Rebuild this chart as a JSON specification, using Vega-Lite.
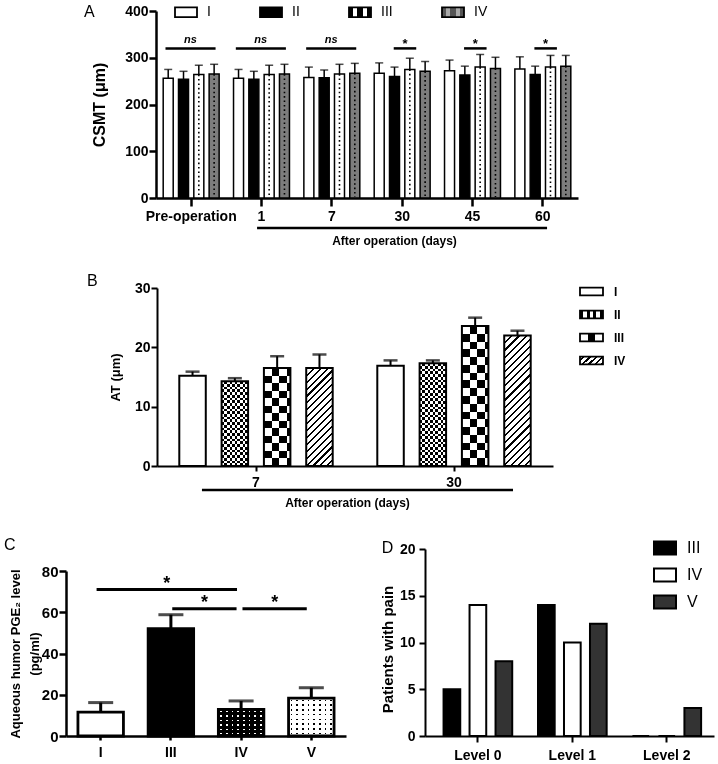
{
"$schema": "https://vega.github.io/schema/vega-lite/v6.json",
"background": "white",
"padding": {"left": 4, "top": 0, "right": 2, "bottom": 2},
"config": {
  "font": "Liberation Sans",
  "view": {"stroke": null},
  "axis": {"domainColor": "black", "tickColor": "black", "labelColor": "black", "titleColor": "black", "labelFont": "Liberation Sans", "titleFont": "Liberation Sans", "labelFontWeight": "bold", "titleFontWeight": "bold", "labelFontSize": 14, "grid": false, "labelFlush": false, "labelOverlap": false, "labelAngle": 0},
  "legend": {"labelFont": "Liberation Sans", "labelColor": "black", "padding": 0},
  "title": {"font": "Liberation Sans", "fontWeight": "normal", "fontSize": 16, "color": "black", "anchor": "start", "frame": "group", "offset": 0, "baseline": "middle"}
},
"datasets": {
  "csmt": [
    {"t":"Pre-operation","g":"I","v":256,"e":275},{"t":"Pre-operation","g":"II","v":254,"e":271},{"t":"Pre-operation","g":"III","v":264,"e":284},{"t":"Pre-operation","g":"IV","v":265,"e":286},
    {"t":"1","g":"I","v":256,"e":275},{"t":"1","g":"II","v":254,"e":271},{"t":"1","g":"III","v":264,"e":284},{"t":"1","g":"IV","v":265,"e":286},
    {"t":"7","g":"I","v":258,"e":280},{"t":"7","g":"II","v":257,"e":274},{"t":"7","g":"III","v":265,"e":286},{"t":"7","g":"IV","v":267,"e":288},
    {"t":"30","g":"I","v":267,"e":289},{"t":"30","g":"II","v":260,"e":280},{"t":"30","g":"III","v":275,"e":299},{"t":"30","g":"IV","v":271,"e":292},
    {"t":"45","g":"I","v":272,"e":295},{"t":"45","g":"II","v":263,"e":282},{"t":"45","g":"III","v":280,"e":307},{"t":"45","g":"IV","v":277,"e":301},
    {"t":"60","g":"I","v":276,"e":302},{"t":"60","g":"II","v":264,"e":282},{"t":"60","g":"III","v":280,"e":305},{"t":"60","g":"IV","v":282,"e":305}
  ],
  "at": [
    {"t":"7","g":"I","v":15.2,"e":15.9},{"t":"7","g":"II","v":14.3,"e":14.8},{"t":"7","g":"III","v":16.5,"e":18.5},{"t":"7","g":"IV","v":16.5,"e":18.8},
    {"t":"30","g":"I","v":16.9,"e":17.8},{"t":"30","g":"II","v":17.3,"e":17.8},{"t":"30","g":"III","v":23.6,"e":25.0},{"t":"30","g":"IV","v":22.0,"e":22.8}
  ],
  "pge": [{"g":"I","v":11.6,"e":16.2},{"g":"III","v":52,"e":58.8},{"g":"IV","v":12.9,"e":17},{"g":"V","v":18.4,"e":23.4}],
  "pain": [
    {"level":"Level 0","g":"III","n":5},{"level":"Level 0","g":"IV","n":14},{"level":"Level 0","g":"V","n":8},
    {"level":"Level 1","g":"III","n":14},{"level":"Level 1","g":"IV","n":10},{"level":"Level 1","g":"V","n":12},
    {"level":"Level 2","g":"III","n":0},{"level":"Level 2","g":"IV","n":0},{"level":"Level 2","g":"V","n":3}
  ],
  "sigA": [{"t":"Pre-operation","label":"ns"},{"t":"1","label":"ns"},{"t":"7","label":"ns"},{"t":"30","label":"*"},{"t":"45","label":"*"},{"t":"60","label":"*"}],
  "sigC": [{"a":"I","b":"IV","lvl":"top","label":"*"},{"a":"III","b":"IV","lvl":"low","label":"*"},{"a":"IV","b":"V","lvl":"low","label":"*"}]
},
"spacing": 83,
"bounds": "flush",
"resolve": {"scale": {"fill": "independent", "xOffset": "independent"}, "legend": {"fill": "independent"}},
"vconcat": [
  {
    "width": 512, "height": 187,
    "title": {"text": "A", "dx": 18, "dy": 24},
    "layer": [
      {
        "data": {"name": "csmt"},
        "resolve": {"scale": {"fill": "independent"}},
        "encoding": {
          "x": {"field": "t", "type": "nominal", "scale": {"domain": ["Pre-operation","1","7","30","45","60"], "range": [90, 512], "paddingInner": 0, "paddingOuter": 0},
                "axis": {"title": "After operation (days)", "titleX": 328, "titleY": 42, "titleBaseline": "middle", "titleFontSize": 12, "labelPadding": 3.5, "tickSize": 8, "tickWidth": 2.5, "domainWidth": 2.5}},
          "xOffset": {"field": "g", "type": "nominal", "scale": {"domain": ["I","II","III","IV"], "paddingInner": 0.346, "paddingOuter": 0.47}},
          "y": {"field": "v", "type": "quantitative", "scale": {"domain": [0, 400]},
                "axis": {"title": "CSMT (μm)", "offset": -90, "values": [0,100,200,300,400], "titleFontSize": 16, "titlePadding": 17, "labelPadding": 1, "tickSize": 7, "tickWidth": 2.5, "domainWidth": 2.5}}
        },
        "layer": [
          {"mark": {"type": "bar", "stroke": "black", "strokeWidth": 1.5},
           "encoding": {"fill": {"field": "g", "type": "nominal", "scale": {"domain": ["I","II","III","IV"], "range": ["#ffffff","#000000","#ffffff","#7d7d7d"]}, "legend": null}}},
          {"transform": [{"filter": "false"}],
           "mark": {"type": "bar", "stroke": "black", "strokeWidth": 1.8},
           "encoding": {"fill": {"field": "g", "type": "nominal", "scale": {"domain": ["I","II","III","IV"], "range": ["#ffffff","#000000",
               {"expr": "{gradient: 'linear', x1: 0, y1: 0, x2: 1, y2: 0, stops: [{offset: 0, color: '#000'}, {offset: 0.2, color: '#000'}, {offset: 0.2, color: '#fff'}, {offset: 0.35, color: '#fff'}, {offset: 0.35, color: '#000'}, {offset: 0.65, color: '#000'}, {offset: 0.65, color: '#fff'}, {offset: 0.8, color: '#fff'}, {offset: 0.8, color: '#000'}, {offset: 1, color: '#000'}]}"},
               {"expr": "{gradient: 'linear', x1: 0, y1: 0, x2: 1, y2: 0, stops: [{offset: 0, color: '#555'}, {offset: 0.2, color: '#555'}, {offset: 0.2, color: '#aaa'}, {offset: 0.35, color: '#aaa'}, {offset: 0.35, color: '#555'}, {offset: 0.65, color: '#555'}, {offset: 0.65, color: '#aaa'}, {offset: 0.8, color: '#aaa'}, {offset: 0.8, color: '#555'}, {offset: 1, color: '#555'}]}"}]},
             "legend": {"title": null, "orient": "none", "legendX": 108, "legendY": -11, "direction": "horizontal", "symbolType": "M-1,-0.45H1V0.45H-1Z", "symbolSize": 484, "symbolStrokeColor": "black", "symbolStrokeWidth": 1.8, "labelFontSize": 14, "labelFontWeight": "normal", "labelOffset": 9, "columnPadding": 45}}}},
          {"transform": [{"filter": "datum.g == 'III' || datum.g == 'IV'"}],
           "mark": {"type": "rule", "color": "black", "strokeWidth": 1.6, "strokeDash": [1.6, 2.8]},
           "encoding": {"y2": {"datum": 2}}},
          {"mark": {"type": "rule", "color": "black", "strokeWidth": 1.5}, "encoding": {"y2": {"field": "e"}}},
          {"mark": {"type": "tick", "color": "black", "thickness": 1.5, "size": 8}, "encoding": {"y": {"field": "e", "type": "quantitative"}}}
        ]
      },
      {"data": {"name": "sigA"}, "transform": [{"filter": "datum.label == 'ns'"}],
       "mark": {"type": "rule", "color": "black", "strokeWidth": 2.5},
       "encoding": {"x": {"field": "t", "type": "nominal", "bandPosition": 0.135}, "x2": {"field": "t", "bandPosition": 0.847}, "y": {"datum": 320, "type": "quantitative"}}},
      {"data": {"name": "sigA"}, "transform": [{"filter": "datum.label == '*'"}],
       "mark": {"type": "rule", "color": "black", "strokeWidth": 2.5},
       "encoding": {"x": {"field": "t", "type": "nominal", "bandPosition": 0.38}, "x2": {"field": "t", "bandPosition": 0.70}, "y": {"datum": 320, "type": "quantitative"}}},
      {"data": {"name": "sigA"}, "transform": [{"filter": "datum.label == 'ns'"}],
       "mark": {"type": "text", "font": "Liberation Sans", "fontSize": 11, "fontWeight": "bold", "fontStyle": "italic", "baseline": "alphabetic", "dy": -5, "color": "black"},
       "encoding": {"x": {"field": "t", "type": "nominal", "bandPosition": 0.49}, "y": {"datum": 320, "type": "quantitative"}, "text": {"field": "label"}}},
      {"data": {"name": "sigA"}, "transform": [{"filter": "datum.label == '*'"}],
       "mark": {"type": "text", "font": "Liberation Sans", "fontSize": 13, "fontWeight": "bold", "baseline": "alphabetic", "dy": -0.5, "color": "black"},
       "encoding": {"x": {"field": "t", "type": "nominal", "bandPosition": 0.54}, "y": {"datum": 320, "type": "quantitative"}, "text": {"field": "label"}}},
      {"data": {"values": [{"span": "After operation (days)"}]},
       "mark": {"type": "rule", "color": "black", "strokeWidth": 2.5},
       "encoding": {"x": {"datum": "1", "type": "nominal", "bandPosition": 0.437}, "x2": {"datum": "60", "bandPosition": 0.56}, "y": {"datum": -64, "type": "quantitative"}}}
    ]
  },
  {
    "width": 487, "height": 185,
    "title": {"text": "B", "dx": 21, "dy": 14},
    "layer": [
      {
        "data": {"name": "at"},
        "resolve": {"scale": {"fill": "independent"}},
        "encoding": {
          "x": {"field": "t", "type": "nominal", "scale": {"domain": ["7","30"], "range": [91, 487], "paddingInner": 0, "paddingOuter": 0},
                "axis": {"title": "After operation (days)", "titleX": 281, "titleY": 36, "titleBaseline": "middle", "titleFontSize": 12, "labelPadding": 4.5, "tickSize": 5, "tickWidth": 2, "domainWidth": 2}},
          "xOffset": {"field": "g", "type": "nominal", "scale": {"domain": ["I","II","III","IV"], "paddingInner": 0.374, "paddingOuter": 0.527}},
          "y": {"field": "v", "type": "quantitative", "scale": {"domain": [0, 30], "range": [185, 7]},
                "axis": {"title": "AT (μm)", "offset": -91, "values": [0,10,20,30], "titleFontSize": 13, "titlePadding": 12, "labelPadding": 1, "tickSize": 6, "tickWidth": 2, "domainWidth": 2}}
        },
        "layer": [
          {"mark": {"type": "bar"},
           "encoding": {"fill": {"field": "g", "type": "nominal", "scale": {"domain": ["I","II","III","IV"], "range": ["#ffffff","#ffffff","#ffffff","#ffffff"]}, "legend": null}}},
          {"transform": [{"filter": "false"}],
           "mark": {"type": "bar", "stroke": "black", "strokeWidth": 1.8},
           "encoding": {"fill": {"field": "g", "type": "nominal", "scale": {"domain": ["I","II","III","IV"], "range": ["#ffffff",
               {"expr": "{gradient: 'linear', x1: 0, y1: 0, x2: 1, y2: 0, stops: [{offset: 0, color: '#000'}, {offset: 0.143, color: '#000'}, {offset: 0.143, color: '#fff'}, {offset: 0.286, color: '#fff'}, {offset: 0.286, color: '#000'}, {offset: 0.429, color: '#000'}, {offset: 0.429, color: '#fff'}, {offset: 0.571, color: '#fff'}, {offset: 0.571, color: '#000'}, {offset: 0.714, color: '#000'}, {offset: 0.714, color: '#fff'}, {offset: 0.857, color: '#fff'}, {offset: 0.857, color: '#000'}, {offset: 1, color: '#000'}]}"},
               {"expr": "{gradient: 'linear', x1: 0, y1: 0, x2: 1, y2: 0, stops: [{offset: 0, color: '#fff'}, {offset: 0.36, color: '#fff'}, {offset: 0.36, color: '#000'}, {offset: 0.64, color: '#000'}, {offset: 0.64, color: '#fff'}, {offset: 1, color: '#fff'}]}"},
               {"expr": "{gradient: 'linear', x1: 0, y1: 0, x2: 1.2, y2: 0.4, stops: [{offset: 0, color: '#fff'}, {offset: 0.1, color: '#fff'}, {offset: 0.1, color: '#000'}, {offset: 0.17, color: '#000'}, {offset: 0.17, color: '#fff'}, {offset: 0.3, color: '#fff'}, {offset: 0.3, color: '#000'}, {offset: 0.37, color: '#000'}, {offset: 0.37, color: '#fff'}, {offset: 0.5, color: '#fff'}, {offset: 0.5, color: '#000'}, {offset: 0.57, color: '#000'}, {offset: 0.57, color: '#fff'}, {offset: 0.7, color: '#fff'}, {offset: 0.7, color: '#000'}, {offset: 0.77, color: '#000'}, {offset: 0.77, color: '#fff'}, {offset: 0.9, color: '#fff'}, {offset: 0.9, color: '#000'}, {offset: 0.97, color: '#000'}, {offset: 0.97, color: '#fff'}, {offset: 1, color: '#fff'}]}"}]},
             "legend": {"title": null, "orient": "none", "legendX": 513, "legendY": -2, "direction": "vertical", "symbolType": "M-1,-0.33H1V0.33H-1Z", "symbolSize": 529, "symbolStrokeColor": "black", "symbolStrokeWidth": 1.8, "labelFontSize": 12, "labelFontWeight": "bold", "labelOffset": 10, "rowPadding": 3}}}},
          {"transform": [{"filter": "datum.g == 'II' && datum.t == '7'"}],
           "mark": {"type": "bar", "fill": {"gradient": "linear", "x1": 0, "y1": 0, "x2": 0, "y2": 1, "stops": [{"offset":0,"color":"#000"},{"offset":0.0323,"color":"#000"},{"offset":0.0323,"color":"#fff"},{"offset":0.0645,"color":"#fff"},{"offset":0.0645,"color":"#000"},{"offset":0.0968,"color":"#000"},{"offset":0.0968,"color":"#fff"},{"offset":0.129,"color":"#fff"},{"offset":0.129,"color":"#000"},{"offset":0.1613,"color":"#000"},{"offset":0.1613,"color":"#fff"},{"offset":0.1935,"color":"#fff"},{"offset":0.1935,"color":"#000"},{"offset":0.2258,"color":"#000"},{"offset":0.2258,"color":"#fff"},{"offset":0.2581,"color":"#fff"},{"offset":0.2581,"color":"#000"},{"offset":0.2903,"color":"#000"},{"offset":0.2903,"color":"#fff"},{"offset":0.3226,"color":"#fff"},{"offset":0.3226,"color":"#000"},{"offset":0.3548,"color":"#000"},{"offset":0.3548,"color":"#fff"},{"offset":0.3871,"color":"#fff"},{"offset":0.3871,"color":"#000"},{"offset":0.4194,"color":"#000"},{"offset":0.4194,"color":"#fff"},{"offset":0.4516,"color":"#fff"},{"offset":0.4516,"color":"#000"},{"offset":0.4839,"color":"#000"},{"offset":0.4839,"color":"#fff"},{"offset":0.5161,"color":"#fff"},{"offset":0.5161,"color":"#000"},{"offset":0.5484,"color":"#000"},{"offset":0.5484,"color":"#fff"},{"offset":0.5806,"color":"#fff"},{"offset":0.5806,"color":"#000"},{"offset":0.6129,"color":"#000"},{"offset":0.6129,"color":"#fff"},{"offset":0.6452,"color":"#fff"},{"offset":0.6452,"color":"#000"},{"offset":0.6774,"color":"#000"},{"offset":0.6774,"color":"#fff"},{"offset":0.7097,"color":"#fff"},{"offset":0.7097,"color":"#000"},{"offset":0.7419,"color":"#000"},{"offset":0.7419,"color":"#fff"},{"offset":0.7742,"color":"#fff"},{"offset":0.7742,"color":"#000"},{"offset":0.8065,"color":"#000"},{"offset":0.8065,"color":"#fff"},{"offset":0.8387,"color":"#fff"},{"offset":0.8387,"color":"#000"},{"offset":0.871,"color":"#000"},{"offset":0.871,"color":"#fff"},{"offset":0.9032,"color":"#fff"},{"offset":0.9032,"color":"#000"},{"offset":0.9355,"color":"#000"},{"offset":0.9355,"color":"#fff"},{"offset":0.9677,"color":"#fff"},{"offset":0.9677,"color":"#000"},{"offset":1,"color":"#000"}]}}},
          {"transform": [{"filter": "datum.g == 'II' && datum.t == '30'"}],
           "mark": {"type": "bar", "fill": {"gradient": "linear", "x1": 0, "y1": 0, "x2": 0, "y2": 1, "stops": [{"offset":0,"color":"#000"},{"offset":0.0263,"color":"#000"},{"offset":0.0263,"color":"#fff"},{"offset":0.0526,"color":"#fff"},{"offset":0.0526,"color":"#000"},{"offset":0.0789,"color":"#000"},{"offset":0.0789,"color":"#fff"},{"offset":0.1053,"color":"#fff"},{"offset":0.1053,"color":"#000"},{"offset":0.1316,"color":"#000"},{"offset":0.1316,"color":"#fff"},{"offset":0.1579,"color":"#fff"},{"offset":0.1579,"color":"#000"},{"offset":0.1842,"color":"#000"},{"offset":0.1842,"color":"#fff"},{"offset":0.2105,"color":"#fff"},{"offset":0.2105,"color":"#000"},{"offset":0.2368,"color":"#000"},{"offset":0.2368,"color":"#fff"},{"offset":0.2632,"color":"#fff"},{"offset":0.2632,"color":"#000"},{"offset":0.2895,"color":"#000"},{"offset":0.2895,"color":"#fff"},{"offset":0.3158,"color":"#fff"},{"offset":0.3158,"color":"#000"},{"offset":0.3421,"color":"#000"},{"offset":0.3421,"color":"#fff"},{"offset":0.3684,"color":"#fff"},{"offset":0.3684,"color":"#000"},{"offset":0.3947,"color":"#000"},{"offset":0.3947,"color":"#fff"},{"offset":0.4211,"color":"#fff"},{"offset":0.4211,"color":"#000"},{"offset":0.4474,"color":"#000"},{"offset":0.4474,"color":"#fff"},{"offset":0.4737,"color":"#fff"},{"offset":0.4737,"color":"#000"},{"offset":0.5,"color":"#000"},{"offset":0.5,"color":"#fff"},{"offset":0.5263,"color":"#fff"},{"offset":0.5263,"color":"#000"},{"offset":0.5526,"color":"#000"},{"offset":0.5526,"color":"#fff"},{"offset":0.5789,"color":"#fff"},{"offset":0.5789,"color":"#000"},{"offset":0.6053,"color":"#000"},{"offset":0.6053,"color":"#fff"},{"offset":0.6316,"color":"#fff"},{"offset":0.6316,"color":"#000"},{"offset":0.6579,"color":"#000"},{"offset":0.6579,"color":"#fff"},{"offset":0.6842,"color":"#fff"},{"offset":0.6842,"color":"#000"},{"offset":0.7105,"color":"#000"},{"offset":0.7105,"color":"#fff"},{"offset":0.7368,"color":"#fff"},{"offset":0.7368,"color":"#000"},{"offset":0.7632,"color":"#000"},{"offset":0.7632,"color":"#fff"},{"offset":0.7895,"color":"#fff"},{"offset":0.7895,"color":"#000"},{"offset":0.8158,"color":"#000"},{"offset":0.8158,"color":"#fff"},{"offset":0.8421,"color":"#fff"},{"offset":0.8421,"color":"#000"},{"offset":0.8684,"color":"#000"},{"offset":0.8684,"color":"#fff"},{"offset":0.8947,"color":"#fff"},{"offset":0.8947,"color":"#000"},{"offset":0.9211,"color":"#000"},{"offset":0.9211,"color":"#fff"},{"offset":0.9474,"color":"#fff"},{"offset":0.9474,"color":"#000"},{"offset":0.9737,"color":"#000"},{"offset":0.9737,"color":"#fff"},{"offset":1,"color":"#fff"}]}}},
          {"transform": [{"filter": "datum.g == 'II'"}],
           "mark": {"type": "bar", "blend": "difference", "fill": {"gradient": "linear", "x1": 0, "y1": 0, "x2": 1, "y2": 0, "stops": [{"offset":0,"color":"#fff"},{"offset":0.1,"color":"#fff"},{"offset":0.1,"color":"#000"},{"offset":0.2,"color":"#000"},{"offset":0.2,"color":"#fff"},{"offset":0.3,"color":"#fff"},{"offset":0.3,"color":"#000"},{"offset":0.4,"color":"#000"},{"offset":0.4,"color":"#fff"},{"offset":0.5,"color":"#fff"},{"offset":0.5,"color":"#000"},{"offset":0.6,"color":"#000"},{"offset":0.6,"color":"#fff"},{"offset":0.7,"color":"#fff"},{"offset":0.7,"color":"#000"},{"offset":0.8,"color":"#000"},{"offset":0.8,"color":"#fff"},{"offset":0.9,"color":"#fff"},{"offset":0.9,"color":"#000"},{"offset":1,"color":"#000"}]}}},
          {"transform": [{"filter": "datum.g == 'III' && datum.t == '7'"}],
           "mark": {"type": "bar", "fill": {"gradient": "linear", "x1": 0, "y1": 0, "x2": 0, "y2": 1, "stops": [{"offset":0,"color":"#000"},{"offset":0.0769,"color":"#000"},{"offset":0.0769,"color":"#fff"},{"offset":0.1538,"color":"#fff"},{"offset":0.1538,"color":"#000"},{"offset":0.2308,"color":"#000"},{"offset":0.2308,"color":"#fff"},{"offset":0.3077,"color":"#fff"},{"offset":0.3077,"color":"#000"},{"offset":0.3846,"color":"#000"},{"offset":0.3846,"color":"#fff"},{"offset":0.4615,"color":"#fff"},{"offset":0.4615,"color":"#000"},{"offset":0.5385,"color":"#000"},{"offset":0.5385,"color":"#fff"},{"offset":0.6154,"color":"#fff"},{"offset":0.6154,"color":"#000"},{"offset":0.6923,"color":"#000"},{"offset":0.6923,"color":"#fff"},{"offset":0.7692,"color":"#fff"},{"offset":0.7692,"color":"#000"},{"offset":0.8462,"color":"#000"},{"offset":0.8462,"color":"#fff"},{"offset":0.9231,"color":"#fff"},{"offset":0.9231,"color":"#000"},{"offset":1,"color":"#000"}]}}},
          {"transform": [{"filter": "datum.g == 'III' && datum.t == '30'"}],
           "mark": {"type": "bar", "fill": {"gradient": "linear", "x1": 0, "y1": 0, "x2": 0, "y2": 1, "stops": [{"offset":0,"color":"#000"},{"offset":0.0556,"color":"#000"},{"offset":0.0556,"color":"#fff"},{"offset":0.1111,"color":"#fff"},{"offset":0.1111,"color":"#000"},{"offset":0.1667,"color":"#000"},{"offset":0.1667,"color":"#fff"},{"offset":0.2222,"color":"#fff"},{"offset":0.2222,"color":"#000"},{"offset":0.2778,"color":"#000"},{"offset":0.2778,"color":"#fff"},{"offset":0.3333,"color":"#fff"},{"offset":0.3333,"color":"#000"},{"offset":0.3889,"color":"#000"},{"offset":0.3889,"color":"#fff"},{"offset":0.4444,"color":"#fff"},{"offset":0.4444,"color":"#000"},{"offset":0.5,"color":"#000"},{"offset":0.5,"color":"#fff"},{"offset":0.5556,"color":"#fff"},{"offset":0.5556,"color":"#000"},{"offset":0.6111,"color":"#000"},{"offset":0.6111,"color":"#fff"},{"offset":0.6667,"color":"#fff"},{"offset":0.6667,"color":"#000"},{"offset":0.7222,"color":"#000"},{"offset":0.7222,"color":"#fff"},{"offset":0.7778,"color":"#fff"},{"offset":0.7778,"color":"#000"},{"offset":0.8333,"color":"#000"},{"offset":0.8333,"color":"#fff"},{"offset":0.8889,"color":"#fff"},{"offset":0.8889,"color":"#000"},{"offset":0.9444,"color":"#000"},{"offset":0.9444,"color":"#fff"},{"offset":1,"color":"#fff"}]}}},
          {"transform": [{"filter": "datum.g == 'III'"}],
           "mark": {"type": "bar", "blend": "difference", "fill": {"gradient": "linear", "x1": 0, "y1": 0, "x2": 1, "y2": 0, "stops": [{"offset":0,"color":"#fff"},{"offset":0.287,"color":"#fff"},{"offset":0.287,"color":"#000"},{"offset":0.574,"color":"#000"},{"offset":0.574,"color":"#fff"},{"offset":0.861,"color":"#fff"},{"offset":0.861,"color":"#000"},{"offset":1,"color":"#000"}]}}},
          {"transform": [{"filter": "datum.g == 'IV' && datum.t == '7'"}],
           "mark": {"type": "bar", "fill": {"gradient": "linear", "x1": 0, "y1": 0, "x2": 0.3205, "y2": 1.1838, "stops": [{"offset":0,"color":"#000"},{"offset":0.0167,"color":"#000"},{"offset":0.0167,"color":"#fff"},{"offset":0.0556,"color":"#fff"},{"offset":0.0556,"color":"#000"},{"offset":0.0722,"color":"#000"},{"offset":0.0722,"color":"#fff"},{"offset":0.1111,"color":"#fff"},{"offset":0.1111,"color":"#000"},{"offset":0.1278,"color":"#000"},{"offset":0.1278,"color":"#fff"},{"offset":0.1667,"color":"#fff"},{"offset":0.1667,"color":"#000"},{"offset":0.1833,"color":"#000"},{"offset":0.1833,"color":"#fff"},{"offset":0.2222,"color":"#fff"},{"offset":0.2222,"color":"#000"},{"offset":0.2389,"color":"#000"},{"offset":0.2389,"color":"#fff"},{"offset":0.2778,"color":"#fff"},{"offset":0.2778,"color":"#000"},{"offset":0.2944,"color":"#000"},{"offset":0.2944,"color":"#fff"},{"offset":0.3333,"color":"#fff"},{"offset":0.3333,"color":"#000"},{"offset":0.35,"color":"#000"},{"offset":0.35,"color":"#fff"},{"offset":0.3889,"color":"#fff"},{"offset":0.3889,"color":"#000"},{"offset":0.4056,"color":"#000"},{"offset":0.4056,"color":"#fff"},{"offset":0.4444,"color":"#fff"},{"offset":0.4444,"color":"#000"},{"offset":0.4611,"color":"#000"},{"offset":0.4611,"color":"#fff"},{"offset":0.5,"color":"#fff"},{"offset":0.5,"color":"#000"},{"offset":0.5167,"color":"#000"},{"offset":0.5167,"color":"#fff"},{"offset":0.5556,"color":"#fff"},{"offset":0.5556,"color":"#000"},{"offset":0.5722,"color":"#000"},{"offset":0.5722,"color":"#fff"},{"offset":0.6111,"color":"#fff"},{"offset":0.6111,"color":"#000"},{"offset":0.6278,"color":"#000"},{"offset":0.6278,"color":"#fff"},{"offset":0.6667,"color":"#fff"},{"offset":0.6667,"color":"#000"},{"offset":0.6833,"color":"#000"},{"offset":0.6833,"color":"#fff"},{"offset":0.7222,"color":"#fff"},{"offset":0.7222,"color":"#000"},{"offset":0.7389,"color":"#000"},{"offset":0.7389,"color":"#fff"},{"offset":0.7778,"color":"#fff"},{"offset":0.7778,"color":"#000"},{"offset":0.7944,"color":"#000"},{"offset":0.7944,"color":"#fff"},{"offset":0.8333,"color":"#fff"},{"offset":0.8333,"color":"#000"},{"offset":0.85,"color":"#000"},{"offset":0.85,"color":"#fff"},{"offset":0.8889,"color":"#fff"},{"offset":0.8889,"color":"#000"},{"offset":0.9056,"color":"#000"},{"offset":0.9056,"color":"#fff"},{"offset":0.9444,"color":"#fff"},{"offset":0.9444,"color":"#000"},{"offset":0.9611,"color":"#000"},{"offset":0.9611,"color":"#fff"},{"offset":1,"color":"#fff"}]}}},
          {"transform": [{"filter": "datum.g == 'IV' && datum.t == '30'"}],
           "mark": {"type": "bar", "fill": {"gradient": "linear", "x1": 0, "y1": 0, "x2": 0.2346, "y2": 1.1555, "stops": [{"offset":0,"color":"#000"},{"offset":0.0136,"color":"#000"},{"offset":0.0136,"color":"#fff"},{"offset":0.0455,"color":"#fff"},{"offset":0.0455,"color":"#000"},{"offset":0.0591,"color":"#000"},{"offset":0.0591,"color":"#fff"},{"offset":0.0909,"color":"#fff"},{"offset":0.0909,"color":"#000"},{"offset":0.1045,"color":"#000"},{"offset":0.1045,"color":"#fff"},{"offset":0.1364,"color":"#fff"},{"offset":0.1364,"color":"#000"},{"offset":0.15,"color":"#000"},{"offset":0.15,"color":"#fff"},{"offset":0.1818,"color":"#fff"},{"offset":0.1818,"color":"#000"},{"offset":0.1954,"color":"#000"},{"offset":0.1954,"color":"#fff"},{"offset":0.2273,"color":"#fff"},{"offset":0.2273,"color":"#000"},{"offset":0.2409,"color":"#000"},{"offset":0.2409,"color":"#fff"},{"offset":0.2727,"color":"#fff"},{"offset":0.2727,"color":"#000"},{"offset":0.2863,"color":"#000"},{"offset":0.2863,"color":"#fff"},{"offset":0.3182,"color":"#fff"},{"offset":0.3182,"color":"#000"},{"offset":0.3318,"color":"#000"},{"offset":0.3318,"color":"#fff"},{"offset":0.3636,"color":"#fff"},{"offset":0.3636,"color":"#000"},{"offset":0.3772,"color":"#000"},{"offset":0.3772,"color":"#fff"},{"offset":0.4091,"color":"#fff"},{"offset":0.4091,"color":"#000"},{"offset":0.4227,"color":"#000"},{"offset":0.4227,"color":"#fff"},{"offset":0.4545,"color":"#fff"},{"offset":0.4545,"color":"#000"},{"offset":0.4681,"color":"#000"},{"offset":0.4681,"color":"#fff"},{"offset":0.5,"color":"#fff"},{"offset":0.5,"color":"#000"},{"offset":0.5136,"color":"#000"},{"offset":0.5136,"color":"#fff"},{"offset":0.5455,"color":"#fff"},{"offset":0.5455,"color":"#000"},{"offset":0.5591,"color":"#000"},{"offset":0.5591,"color":"#fff"},{"offset":0.5909,"color":"#fff"},{"offset":0.5909,"color":"#000"},{"offset":0.6045,"color":"#000"},{"offset":0.6045,"color":"#fff"},{"offset":0.6364,"color":"#fff"},{"offset":0.6364,"color":"#000"},{"offset":0.65,"color":"#000"},{"offset":0.65,"color":"#fff"},{"offset":0.6818,"color":"#fff"},{"offset":0.6818,"color":"#000"},{"offset":0.6954,"color":"#000"},{"offset":0.6954,"color":"#fff"},{"offset":0.7273,"color":"#fff"},{"offset":0.7273,"color":"#000"},{"offset":0.7409,"color":"#000"},{"offset":0.7409,"color":"#fff"},{"offset":0.7727,"color":"#fff"},{"offset":0.7727,"color":"#000"},{"offset":0.7863,"color":"#000"},{"offset":0.7863,"color":"#fff"},{"offset":0.8182,"color":"#fff"},{"offset":0.8182,"color":"#000"},{"offset":0.8318,"color":"#000"},{"offset":0.8318,"color":"#fff"},{"offset":0.8636,"color":"#fff"},{"offset":0.8636,"color":"#000"},{"offset":0.8772,"color":"#000"},{"offset":0.8772,"color":"#fff"},{"offset":0.9091,"color":"#fff"},{"offset":0.9091,"color":"#000"},{"offset":0.9227,"color":"#000"},{"offset":0.9227,"color":"#fff"},{"offset":0.9545,"color":"#fff"},{"offset":0.9545,"color":"#000"},{"offset":0.9681,"color":"#000"},{"offset":0.9681,"color":"#fff"},{"offset":1,"color":"#fff"}]}}},
          {"mark": {"type": "bar", "fillOpacity": 0, "stroke": "black", "strokeWidth": 2}},
          {"mark": {"type": "rule", "color": "black", "strokeWidth": 2}, "encoding": {"y2": {"field": "e"}}},
          {"mark": {"type": "tick", "color": "black", "thickness": 2.5, "size": 14}, "encoding": {"y": {"field": "e", "type": "quantitative"}}}
        ]
      },
      {"data": {"values": [{"span": "After operation (days)"}]},
       "mark": {"type": "rule", "color": "black", "strokeWidth": 2.5},
       "encoding": {"x": {"datum": "7", "type": "nominal", "bandPosition": 0.227}, "x2": {"datum": "30", "bandPosition": 0.798}, "y": {"datum": -4.05, "type": "quantitative"}}}
    ]
  },
  {
    "width": 648, "height": 187,
    "title": {"text": "C", "dx": -62, "dy": 21},
    "resolve": {"scale": {"x": "independent", "y": "independent", "fill": "independent"}, "axis": {"x": "independent", "y": "independent"}, "legend": {"fill": "independent"}},
    "layer": [
      {
        "layer": [
          {
            "data": {"name": "pge"},
            "encoding": {
              "x": {"field": "g", "type": "nominal", "scale": {"domain": ["I","III","IV","V"], "range": [0, 280], "paddingInner": 0.352, "paddingOuter": 0.17},
                    "axis": {"title": null, "orient": "bottom", "labelPadding": 5, "tickSize": 4, "tickWidth": 2.5, "domainWidth": 2.5}},
              "y": {"field": "v", "type": "quantitative", "scale": {"domain": [0, 80], "range": [187, 22]},
                    "axis": {"title": ["Aqueous humor PGE₂ level", "(pg/ml)"], "orient": "left", "values": [0,20,40,60,80], "titleFontSize": 13, "titleLineHeight": 19, "titlePadding": 0, "labelFontSize": 15, "labelPadding": 1, "tickSize": 7, "tickWidth": 2.5, "domainWidth": 2.5}}
            },
            "layer": [
              {"mark": {"type": "bar"},
               "encoding": {"fill": {"field": "g", "type": "nominal", "scale": {"domain": ["I","III","IV","V"], "range": ["#ffffff","#000000","#000000","#ffffff"]}, "legend": null}}},
              {"transform": [{"filter": "datum.g == 'IV'"}],
               "mark": {"type": "bar", "fill": {"gradient": "linear", "x1": 0, "y1": 0, "x2": 1, "y2": 0, "stops": [{"offset":0,"color":"#000"},{"offset":0.0438,"color":"#000"},{"offset":0.0438,"color":"#fff"},{"offset":0.0813,"color":"#fff"},{"offset":0.0813,"color":"#000"},{"offset":0.1688,"color":"#000"},{"offset":0.1688,"color":"#fff"},{"offset":0.2063,"color":"#fff"},{"offset":0.2063,"color":"#000"},{"offset":0.2938,"color":"#000"},{"offset":0.2938,"color":"#fff"},{"offset":0.3313,"color":"#fff"},{"offset":0.3313,"color":"#000"},{"offset":0.4188,"color":"#000"},{"offset":0.4188,"color":"#fff"},{"offset":0.4563,"color":"#fff"},{"offset":0.4563,"color":"#000"},{"offset":0.5438,"color":"#000"},{"offset":0.5438,"color":"#fff"},{"offset":0.5813,"color":"#fff"},{"offset":0.5813,"color":"#000"},{"offset":0.6688,"color":"#000"},{"offset":0.6688,"color":"#fff"},{"offset":0.7063,"color":"#fff"},{"offset":0.7063,"color":"#000"},{"offset":0.7938,"color":"#000"},{"offset":0.7938,"color":"#fff"},{"offset":0.8313,"color":"#fff"},{"offset":0.8313,"color":"#000"},{"offset":0.9188,"color":"#000"},{"offset":0.9188,"color":"#fff"},{"offset":0.9563,"color":"#fff"},{"offset":0.9563,"color":"#000"},{"offset":1,"color":"#000"}]}}},
              {"transform": [{"filter": "datum.g == 'IV'"}],
               "mark": {"type": "bar", "blend": "darken", "fill": {"gradient": "linear", "x1": 0, "y1": 0, "x2": 0, "y2": 1, "stops": [{"offset":0,"color":"#000"},{"offset":0.0583,"color":"#000"},{"offset":0.0583,"color":"#fff"},{"offset":0.1083,"color":"#fff"},{"offset":0.1083,"color":"#000"},{"offset":0.225,"color":"#000"},{"offset":0.225,"color":"#fff"},{"offset":0.275,"color":"#fff"},{"offset":0.275,"color":"#000"},{"offset":0.3917,"color":"#000"},{"offset":0.3917,"color":"#fff"},{"offset":0.4417,"color":"#fff"},{"offset":0.4417,"color":"#000"},{"offset":0.5583,"color":"#000"},{"offset":0.5583,"color":"#fff"},{"offset":0.6083,"color":"#fff"},{"offset":0.6083,"color":"#000"},{"offset":0.725,"color":"#000"},{"offset":0.725,"color":"#fff"},{"offset":0.775,"color":"#fff"},{"offset":0.775,"color":"#000"},{"offset":0.8917,"color":"#000"},{"offset":0.8917,"color":"#fff"},{"offset":0.9417,"color":"#fff"},{"offset":0.9417,"color":"#000"},{"offset":1,"color":"#000"}]}}},
              {"transform": [{"filter": "datum.g == 'V'"}],
               "mark": {"type": "bar", "fill": {"gradient": "linear", "x1": 0, "y1": 0, "x2": 1, "y2": 0, "stops": [{"offset":0,"color":"#fff"},{"offset":0.0438,"color":"#fff"},{"offset":0.0438,"color":"#000"},{"offset":0.0813,"color":"#000"},{"offset":0.0813,"color":"#fff"},{"offset":0.1688,"color":"#fff"},{"offset":0.1688,"color":"#000"},{"offset":0.2063,"color":"#000"},{"offset":0.2063,"color":"#fff"},{"offset":0.2938,"color":"#fff"},{"offset":0.2938,"color":"#000"},{"offset":0.3313,"color":"#000"},{"offset":0.3313,"color":"#fff"},{"offset":0.4188,"color":"#fff"},{"offset":0.4188,"color":"#000"},{"offset":0.4563,"color":"#000"},{"offset":0.4563,"color":"#fff"},{"offset":0.5438,"color":"#fff"},{"offset":0.5438,"color":"#000"},{"offset":0.5813,"color":"#000"},{"offset":0.5813,"color":"#fff"},{"offset":0.6688,"color":"#fff"},{"offset":0.6688,"color":"#000"},{"offset":0.7063,"color":"#000"},{"offset":0.7063,"color":"#fff"},{"offset":0.7938,"color":"#fff"},{"offset":0.7938,"color":"#000"},{"offset":0.8313,"color":"#000"},{"offset":0.8313,"color":"#fff"},{"offset":0.9188,"color":"#fff"},{"offset":0.9188,"color":"#000"},{"offset":0.9563,"color":"#000"},{"offset":0.9563,"color":"#fff"},{"offset":1,"color":"#fff"}]}}},
              {"transform": [{"filter": "datum.g == 'V'"}],
               "mark": {"type": "bar", "blend": "lighten", "fill": {"gradient": "linear", "x1": 0, "y1": 0, "x2": 0, "y2": 1, "stops": [{"offset":0,"color":"#fff"},{"offset":0.0438,"color":"#fff"},{"offset":0.0438,"color":"#000"},{"offset":0.0813,"color":"#000"},{"offset":0.0813,"color":"#fff"},{"offset":0.1688,"color":"#fff"},{"offset":0.1688,"color":"#000"},{"offset":0.2063,"color":"#000"},{"offset":0.2063,"color":"#fff"},{"offset":0.2938,"color":"#fff"},{"offset":0.2938,"color":"#000"},{"offset":0.3313,"color":"#000"},{"offset":0.3313,"color":"#fff"},{"offset":0.4188,"color":"#fff"},{"offset":0.4188,"color":"#000"},{"offset":0.4563,"color":"#000"},{"offset":0.4563,"color":"#fff"},{"offset":0.5438,"color":"#fff"},{"offset":0.5438,"color":"#000"},{"offset":0.5813,"color":"#000"},{"offset":0.5813,"color":"#fff"},{"offset":0.6688,"color":"#fff"},{"offset":0.6688,"color":"#000"},{"offset":0.7063,"color":"#000"},{"offset":0.7063,"color":"#fff"},{"offset":0.7938,"color":"#fff"},{"offset":0.7938,"color":"#000"},{"offset":0.8313,"color":"#000"},{"offset":0.8313,"color":"#fff"},{"offset":0.9188,"color":"#fff"},{"offset":0.9188,"color":"#000"},{"offset":0.9563,"color":"#000"},{"offset":0.9563,"color":"#fff"},{"offset":1,"color":"#fff"}]}}},
              {"mark": {"type": "bar", "fillOpacity": 0, "stroke": "black", "strokeWidth": 2.8}},
              {"mark": {"type": "rule", "color": "black", "strokeWidth": 3}, "encoding": {"y2": {"field": "e"}}},
              {"mark": {"type": "tick", "color": "black", "thickness": 3, "size": 25}, "encoding": {"y": {"field": "e", "type": "quantitative"}}}
            ]
          },
          {"data": {"name": "sigC"}, "transform": [{"filter": "datum.lvl == 'top'"}],
           "mark": {"type": "rule", "color": "black", "strokeWidth": 3},
           "encoding": {"x": {"field": "a", "type": "nominal", "bandPosition": 0.41}, "x2": {"field": "b", "bandPosition": 0.41}, "y": {"datum": 71, "type": "quantitative"}}},
          {"data": {"name": "sigC"}, "transform": [{"filter": "datum.lvl == 'low'"}],
           "mark": {"type": "rule", "color": "black", "strokeWidth": 3},
           "encoding": {"x": {"field": "a", "type": "nominal", "bandPosition": 0.53}, "x2": {"field": "b", "bandPosition": 0.40}, "y": {"datum": 61.7, "type": "quantitative"}}},
          {"data": {"name": "sigC"}, "transform": [{"filter": "datum.lvl == 'top'"}],
           "mark": {"type": "text", "font": "Liberation Sans", "fontSize": 18, "fontWeight": "bold", "baseline": "alphabetic", "dy": -1, "color": "black"},
           "encoding": {"x": {"datum": "III", "type": "nominal", "bandPosition": 0.41}, "y": {"datum": 71, "type": "quantitative"}, "text": {"field": "label"}}},
          {"data": {"name": "sigC"}, "transform": [{"filter": "datum.lvl == 'low'"}],
           "mark": {"type": "text", "font": "Liberation Sans", "fontSize": 18, "fontWeight": "bold", "baseline": "alphabetic", "dy": -1, "color": "black"},
           "encoding": {"x": {"field": "a", "type": "nominal", "bandPosition": 1.24}, "y": {"datum": 61.7, "type": "quantitative"}, "text": {"field": "label"}}}
        ]
      },
      {
        "data": {"name": "pain"},
        "mark": {"type": "bar", "stroke": "black", "strokeWidth": 2},
        "encoding": {
          "x": {"field": "level", "type": "nominal", "scale": {"domain": ["Level 0","Level 1","Level 2"], "range": [359, 648], "paddingInner": 0, "paddingOuter": 0.03, "align": 1},
                "axis": {"title": "D", "orient": "bottom", "titleX": 321, "titleY": -189, "titleBaseline": "middle", "titleFontSize": 16, "titleFontWeight": "normal", "labelPadding": 6, "tickSize": 6, "tickWidth": 2, "domainWidth": 2}},
          "xOffset": {"field": "g", "type": "nominal", "scale": {"domain": ["III","IV","V"], "paddingInner": 0.358, "paddingOuter": 0.496}},
          "y": {"field": "n", "type": "quantitative", "scale": {"domain": [0, 20]},
                "axis": {"title": "Patients with pain", "orient": "left", "offset": -359, "values": [0,5,10,15,20], "titleFontSize": 15, "titlePadding": 4, "titleY": 100, "labelPadding": 4, "tickSize": 6, "tickWidth": 2, "domainWidth": 2}},
          "fill": {"field": "g", "type": "nominal", "scale": {"domain": ["III","IV","V"], "range": ["#000000","#ffffff","#333333"]},
                   "legend": {"title": null, "orient": "none", "legendX": 587, "legendY": -13, "direction": "vertical", "symbolType": "M-1,-0.6H1V0.6H-1Z", "symbolSize": 484, "symbolStrokeColor": "black", "symbolStrokeWidth": 2, "labelFontSize": 16, "labelFontWeight": "normal", "labelOffset": 10, "rowPadding": 4}}
        }
      }
    ]
  }
]
}
